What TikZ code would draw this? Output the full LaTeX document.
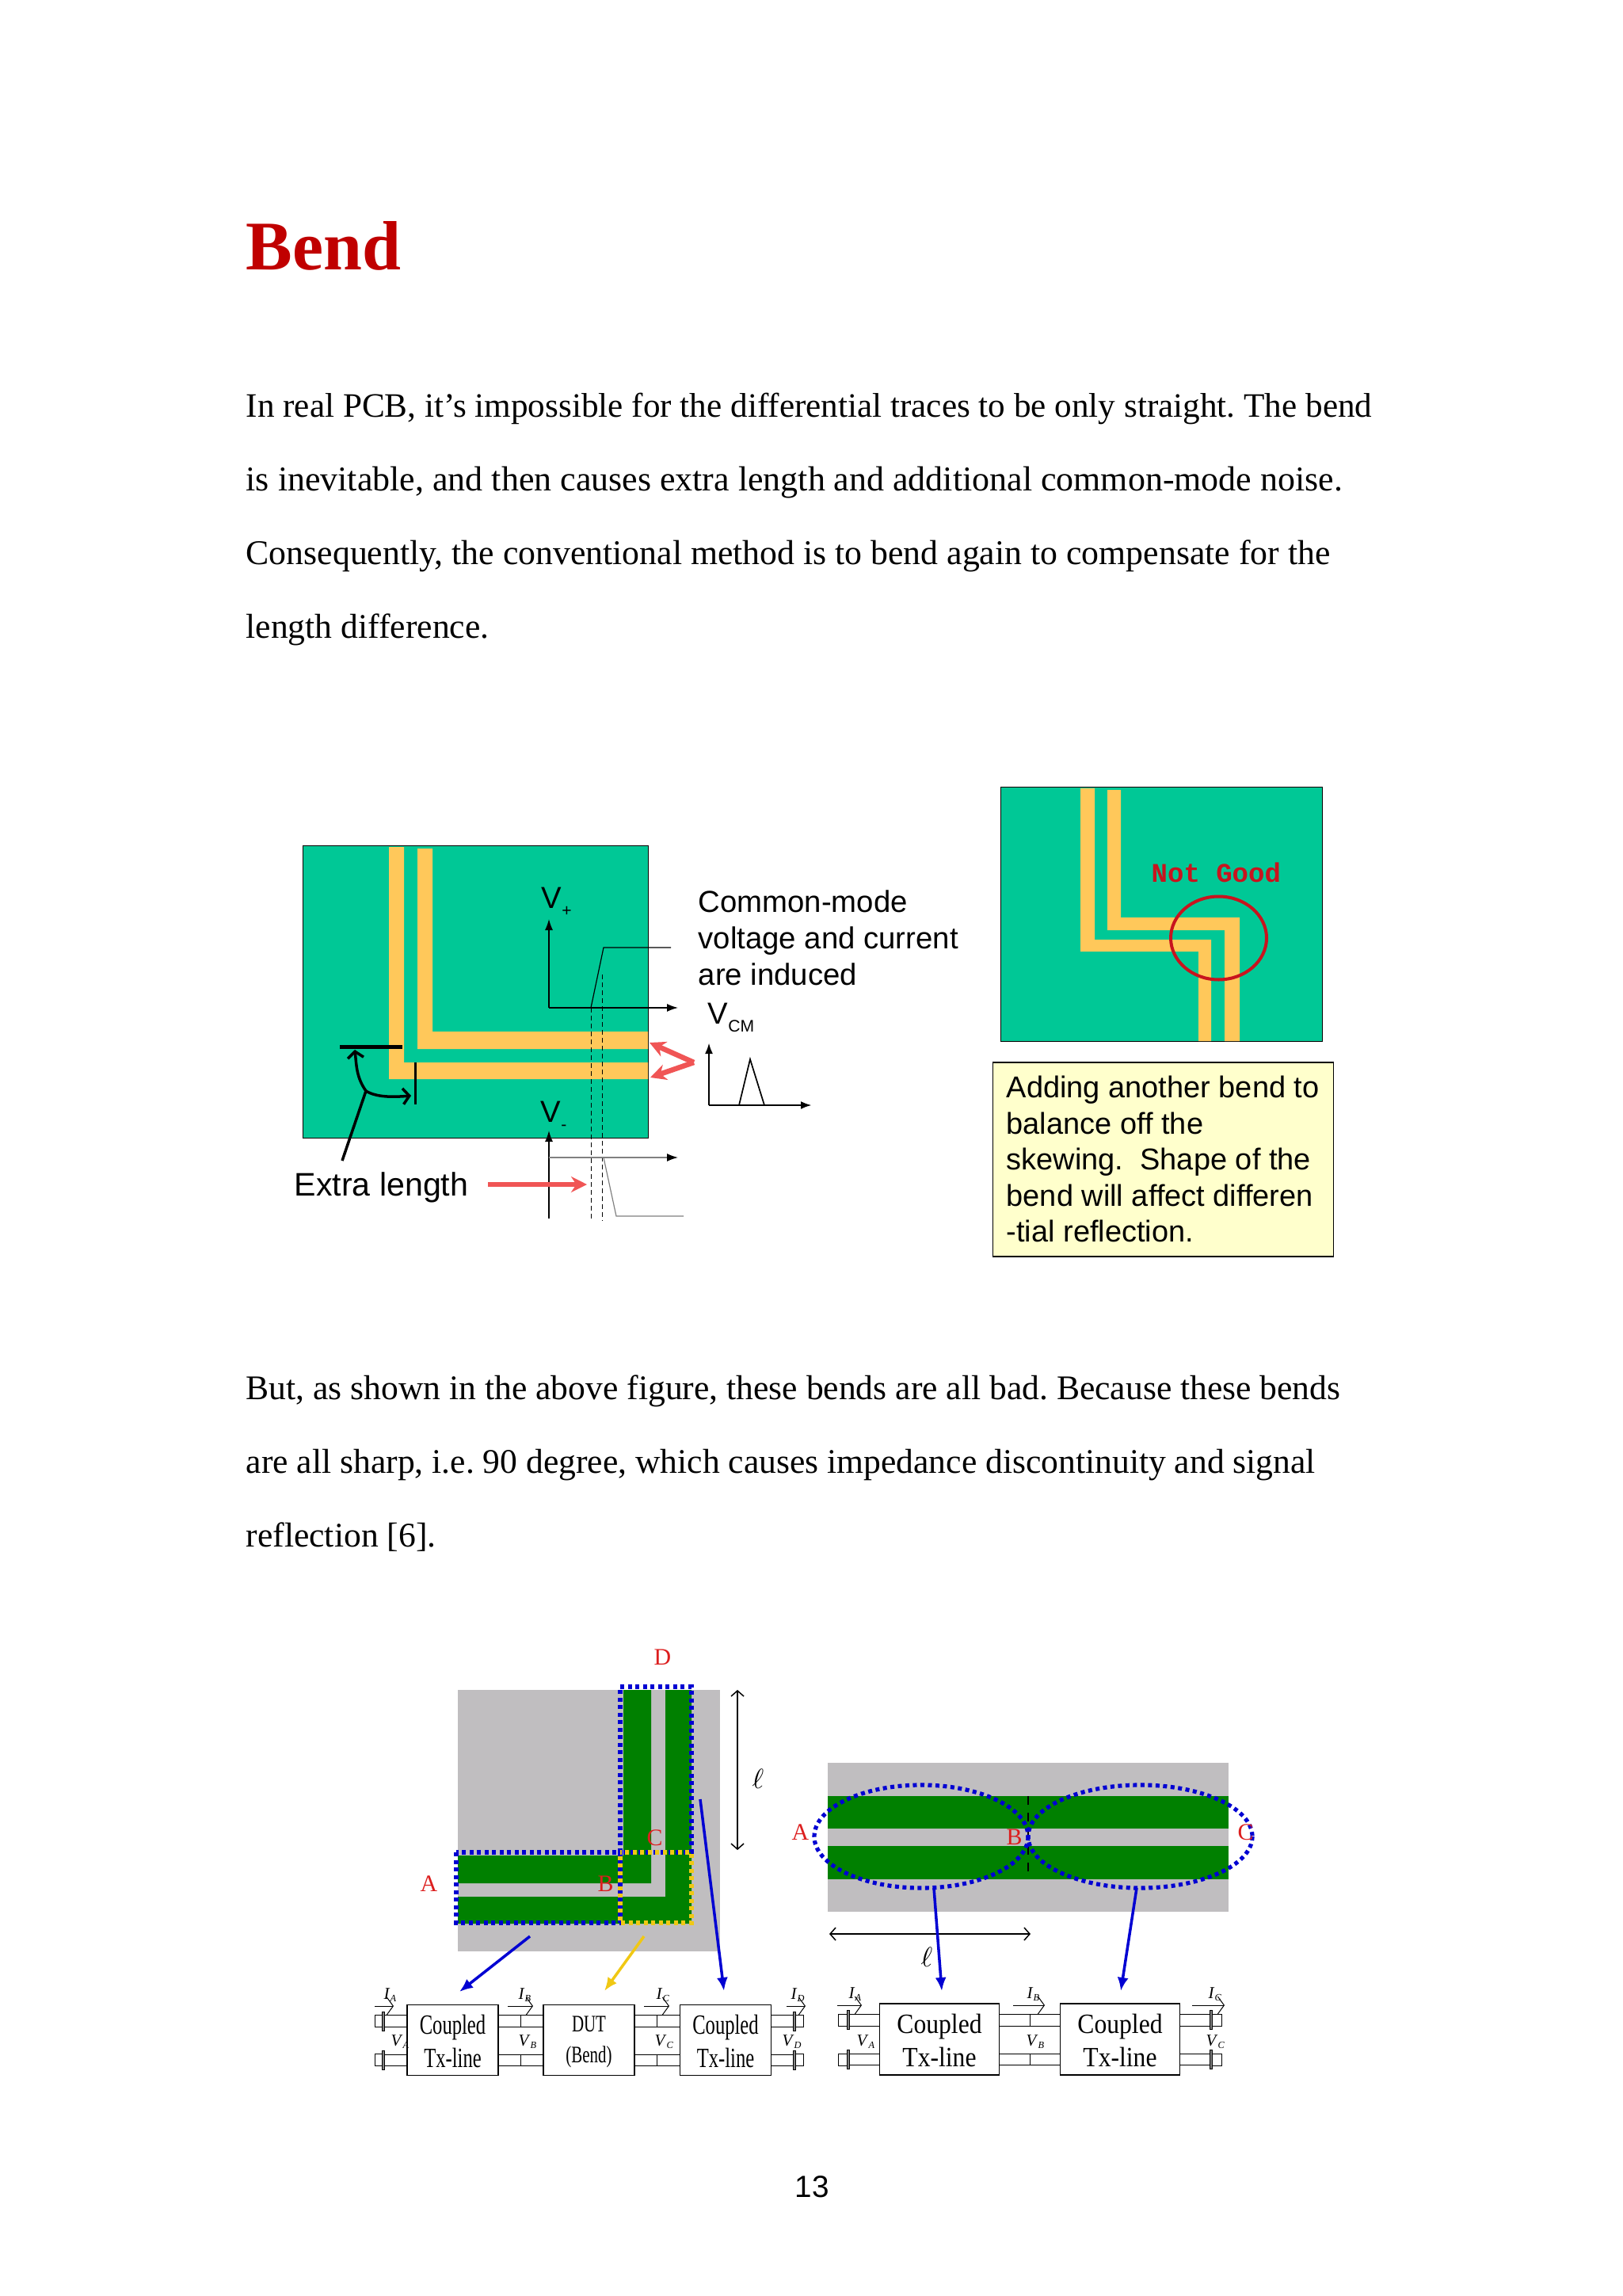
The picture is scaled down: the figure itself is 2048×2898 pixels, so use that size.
\documentclass[tikz,border=0pt]{standalone}
\usepackage{fontspec}
\usepackage{xcolor}
\setmainfont{Liberation Serif}
\setsansfont{Liberation Sans}
\newfontfamily\monofnt{Liberation Mono}
\newfontfamily\narrowfnt[FakeStretch=0.7]{Liberation Serif}
\newfontfamily\wideboxfnt[FakeStretch=0.9]{Liberation Serif}
\usetikzlibrary{arrows.meta,positioning}
\definecolor{boardgreen}{RGB}{0,200,150}
\definecolor{traceyellow}{RGB}{255,200,90}
\definecolor{metalgreen}{RGB}{0,128,0}
\definecolor{subgray}{RGB}{192,190,192}
\definecolor{dotblue}{RGB}{0,0,210}
\definecolor{labelred}{RGB}{220,30,30}
\definecolor{arrowred}{RGB}{240,85,85}
\definecolor{titlered}{RGB}{192,0,0}
\definecolor{notered}{RGB}{200,20,30}
\definecolor{notefill}{RGB}{255,255,204}
\definecolor{dutyellow}{RGB}{240,200,20}
\newcommand{\Vsub}[1]{V\raisebox{-0.5ex}{\fontsize{6}{6}\selectfont #1}}
\newcommand{\Lsub}[2]{\textit{#1}\raisebox{-0.35ex}{\fontsize{3.5}{4}\selectfont\itshape #2}}
\newcommand{\portlines}[2]{%
  \draw[wire] ([yshift=.32cm]#1) -- ([yshift=.32cm]#2);
  \draw[wire] ([yshift=.17cm]#1) -- ([yshift=.17cm]#2);
  \draw[wire] ([yshift=-.18cm]#1) -- ([yshift=-.18cm]#2);
  \draw[wire] ([yshift=-.32cm]#1) -- ([yshift=-.32cm]#2);
}
\begin{document}
\begin{tikzpicture}[x=0.01cm,y=-0.01cm,
  body/.style={anchor=base west, inner sep=0pt, font=\frenchspacing\fontsize{12.4}{14}\selectfont},
  lbl/.style={anchor=base west, inner sep=0pt, font=\sffamily\fontsize{10.9}{13}\selectfont},
  notelbl/.style={anchor=base west, inner sep=0pt, font=\sffamily\fontsize{10.8}{13}\selectfont},
  redlbl/.style={anchor=base west, inner sep=0pt, text=labelred, font=\fontsize{8.5}{9}\selectfont},
  smalllbl/.style={anchor=base west, inner sep=0pt, font=\fontsize{6}{7}\selectfont},
  ell/.style={inner sep=0pt, font=\fontsize{10}{11}\selectfont},
  tx/.style={draw, line width=.012cm, fill=white, minimum width=1.15cm, minimum height=.885cm, inner sep=0pt, align=center},
  txwide/.style={draw, line width=.012cm, fill=white, minimum width=1.515cm, minimum height=.9cm, inner sep=0pt, align=center},
  tip/.style={draw, line width=.008cm, minimum width=.12cm, minimum height=.15cm, inner sep=0pt},
  pin/.style={draw, line width=.006cm, fill=gray, minimum width=.035cm, minimum height=.24cm, inner sep=0pt},
  wire/.style={line width=.01cm},
  thinax/.style={-{Latex[length=.14cm,width=.1cm]}, line width=.014cm},
  pulse/.style={line width=.012cm},
  guide/.style={line width=.009cm, dash pattern=on .06cm off .04cm},
  hot/.style={-{Stealth[length=.2cm,width=.2cm]}, line width=.065cm, arrowred},
  curr/.style={-{Straight Barb[length=.08cm,width=.22cm]}, line width=.01cm},
  span/.style={{Straight Barb[length=.07cm,width=.16cm]}-{Straight Barb[length=.07cm,width=.16cm]}, line width=.015cm},
  feed/.style={-{Latex[length=.17cm,width=.14cm]}, line width=.035cm},
  dots/.style={line width=.052cm, dash pattern=on .05cm off .045cm}
]
\useasboundingbox (0,0) rectangle (2048,2898);
% page text
\node[anchor=base west, inner sep=0pt, text=titlered, font=\bfseries\fontsize{25}{28}\selectfont] (title) at (310,341) {Bend};
\node[body, font=\frenchspacing\fontsize{12.28}{14}\selectfont] (p1) at (310,527) {In real PCB, it’s impossible for the differential traces to be only straight. The bend};
\node[body, font=\frenchspacing\fontsize{12.5}{14}\selectfont] (p2) at (310,620) {is inevitable, and then causes extra length and additional common-mode noise.};
\node[body, font=\frenchspacing\fontsize{12.45}{14}\selectfont] (p3) at (310,713) {Consequently, the conventional method is to bend again to compensate for the};
\node[body] (p4) at (310,806) {length difference.};
\node[body] (p5) at (310,1766) {But, as shown in the above figure, these bends are all bad. Because these bends};
\node[body] (p6) at (310,1859) {are all sharp, i.e. 90 degree, which causes impedance discontinuity and signal};
\node[body] (p7) at (310,1952) {reflection [6].};
\node[inner sep=0pt, font=\sffamily\fontsize{11}{13}\selectfont] (pageno) at (1025,2760) {13};
% left board
\draw[fill=boardgreen, line width=.01cm] (382,1067) rectangle (818,1436);
\fill[traceyellow] (491,1069) -- (510,1069) -- (510,1341) -- (818,1341) -- (818,1362) -- (491,1362) -- cycle;
\fill[traceyellow] (527,1071) -- (546,1071) -- (546,1302) -- (818,1302) -- (818,1324) -- (527,1324) -- cycle;
\coordinate (vporg) at (693,1272);
\coordinate (vptop) at (693,1160);
\coordinate (vpend) at (856,1272);
\draw[thinax] (vporg) -- (vptop);
\draw[thinax] (vporg) -- (vpend);
\draw[pulse] (746,1272) -- (762,1196) -- (847,1196);
\draw[guide] (746,1272) -- (746,1541);
\draw[guide] (760,1230) -- (760,1541);
\node[lbl] (vplus) at (683,1146) {\Vsub{+}};
\node[lbl] (vminus) at (682,1416) {\Vsub{-}};
\node[lbl] (cm1) at (881,1151) {Common-mode};
\node[lbl] (cm2) at (881,1197) {voltage and current};
\node[lbl] (cm3) at (881,1243) {are induced};
\node[lbl] (vcm) at (893,1292) {\Vsub{CM}};
\coordinate (hotfrom) at (876,1341);
\coordinate (hotup) at (820,1316);
\coordinate (hotdown) at (821,1360);
\draw[hot] (hotfrom) -- (hotup);
\draw[hot] (hotfrom) -- (hotdown);
\coordinate (cmorg) at (895,1395);
\coordinate (cmtop) at (895,1316);
\coordinate (cmend) at (1025,1395);
\draw[thinax, line width=.028cm] (cmorg) -- (cmtop);
\draw[thinax, line width=.028cm] (cmorg) -- (cmend);
\draw[line width=.017cm] (933,1395) -- (947,1337) -- (965,1395);
% extra length marks
\draw[line width=.05cm] (429,1321) -- (508,1321);
\draw[line width=.03cm] (524,1341) -- (524,1394);
\coordinate (xfork) at (462,1377);
\coordinate (xfoot) at (432,1465);
\draw[line width=.035cm, -{Straight Barb[length=.08cm,width=.2cm]}] (xfork) .. controls (450,1360) and (450,1345) .. (448,1325);
\draw[line width=.035cm, -{Straight Barb[length=.08cm,width=.2cm]}] (xfork) .. controls (475,1385) and (495,1385) .. (519,1383);
\draw[line width=.035cm] (xfork) -- (xfoot);
\coordinate (vmorg) at (693,1538);
\coordinate (vmtop) at (693,1427);
\coordinate (vmfrom) at (693,1461);
\coordinate (vmend) at (856,1461);
\draw[thinax] (vmorg) -- (vmtop);
\draw[thinax, draw=gray, -{Latex[length=.14cm,width=.1cm,black]}] (vmfrom) -- (vmend);
\draw[pulse, gray] (762,1461) -- (778,1535) -- (863,1535);
\node[lbl, font=\sffamily\fontsize{11.7}{13}\selectfont] (extra) at (371,1509) {Extra length};
\coordinate (xlfrom) at (616,1495);
\coordinate (xlto) at (741,1495);
\draw[hot] (xlfrom) -- (xlto);
% right board
\draw[fill=boardgreen, line width=.01cm] (1263,993) rectangle (1669,1314);
\fill[traceyellow] (1364,995) -- (1382,995) -- (1382,1186) -- (1529,1186) -- (1529,1314) -- (1513,1314) -- (1513,1201) -- (1364,1201) -- cycle;
\fill[traceyellow] (1398,997) -- (1415,997) -- (1415,1158) -- (1565,1158) -- (1565,1314) -- (1546,1314) -- (1546,1174) -- (1398,1174) -- cycle;
\draw[notered, line width=.04cm] (1538.5,1184) ellipse [x radius=60.5, y radius=52.5];
\node[anchor=base west, inner sep=0pt, text=notered, font=\monofnt\bfseries\fontsize{9.67}{11}\selectfont] (notgood) at (1453,1113) {Not Good};
\node[draw, fill=notefill, line width=.012cm, minimum width=4.29cm, minimum height=2.45cm, inner sep=0pt] (note) at (1468.5,1463.5) {};
\node[notelbl] (n1) at (1270,1385) {Adding another bend to};
\node[notelbl] (n2) at (1270,1431) {balance off the};
\node[notelbl] (n3) at (1270,1476) {skewing.\ \ Shape of the};
\node[notelbl] (n4) at (1270,1522) {bend will affect differen};
\node[notelbl] (n5) at (1270,1567) {-tial reflection.};
% bend layout
\fill[subgray] (578,2133) rectangle (909,2463);
\fill[metalgreen] (787,2133) -- (822,2133) -- (822,2377) -- (578,2377) -- (578,2342) -- (787,2342) -- cycle;
\fill[metalgreen] (840,2133) -- (873,2133) -- (873,2428) -- (578,2428) -- (578,2394) -- (840,2394) -- cycle;
\draw[dots, dotblue] (783,2338) rectangle (873,2129);
\draw[dots, dotblue] (576,2338) rectangle (783,2427);
\draw[dots, dutyellow, dash phase=.05cm] (783,2338) rectangle (873,2427);
\node[redlbl] (bd) at (825,2101) {D};
\node[redlbl] (ba) at (530,2387) {A};
\node[redlbl] (bb) at (754,2387) {B};
\node[redlbl] (bc) at (816,2329) {C};
\coordinate (spantop) at (931,2133);
\coordinate (spanbot) at (931,2335);
\draw[span] (spantop) -- (spanbot);
\node[ell] (bl) at (957,2245) {$\ell$};
% straight layout
\fill[subgray] (1045,2225) rectangle (1551,2413);
\fill[metalgreen] (1045,2267) rectangle (1551,2308);
\fill[metalgreen] (1045,2330) rectangle (1551,2372);
\draw[dashed, line width=.012cm] (1298,2267) -- (1298,2372);
\draw[dots, dotblue] (1163,2318) ellipse [x radius=135, y radius=65];
\draw[dots, dotblue] (1439.5,2318) ellipse [x radius=141.5, y radius=65];
\node[redlbl] (sa) at (999,2322) {A};
\node[redlbl] (sb) at (1270,2328) {B};
\node[redlbl] (sc) at (1562,2322) {C};
\coordinate (spanl) at (1047,2441);
\coordinate (spanr) at (1301,2441);
\draw[span] (spanl) -- (spanr);
\node[ell] (sl) at (1170,2470) {$\ell$};
% circuit blocks, bend
\node[tx, font=\narrowfnt\fontsize{10}{12}\selectfont] (ctl) at (571.5,2575) {\rule{0pt}{.28cm}Coupled\\Tx-line};
\node[tx, font=\narrowfnt\fontsize{8.5}{11}\selectfont] (dut) at (743.5,2575) {\rule{0pt}{.24cm}DUT\\(Bend)};
\node[tx, font=\narrowfnt\fontsize{10}{12}\selectfont] (ctr) at (916,2575) {\rule{0pt}{.28cm}Coupled\\Tx-line};
\coordinate (ta) at (485,2575);
\coordinate (td) at (1003,2575);
\portlines{ctl.east}{dut.west}
\portlines{dut.east}{ctr.west}
\portlines{ctl.west}{ta}
\portlines{ctr.east}{td}
\node[tip] (pa1) at (479,2550.5) {};
\node[tip] (pa2) at (479,2600) {};
\node[pin] (ba1) at (484,2551) {};
\node[pin] (ba2) at (484,2600) {};
\node[tip] (pd1) at (1008,2550.5) {};
\node[tip] (pd2) at (1008,2600) {};
\node[pin] (bd1) at (1003,2551) {};
\node[pin] (bd2) at (1003,2600) {};
\draw[wire] (657,2543) -- (657,2558);
\draw[wire] (657,2593) -- (657,2607);
\draw[wire] (829,2543) -- (829,2558);
\draw[wire] (829,2593) -- (829,2607);
\coordinate (cia) at (473,2532);
\coordinate (cib) at (641,2532);
\coordinate (cic) at (813,2532);
\coordinate (cid) at (993,2532);
\draw[curr] (cia) -- ++(24,0);
\draw[curr] (cib) -- ++(32,0);
\draw[curr] (cic) -- ++(32,0);
\draw[curr] (cid) -- ++(24,0);
\node[smalllbl] (lia) at (484,2523) {\Lsub{I}{A}};
\node[smalllbl] (lib) at (654,2523) {\Lsub{I}{B}};
\node[smalllbl] (lic) at (828,2523) {\Lsub{I}{C}};
\node[smalllbl] (lid) at (998,2523) {\Lsub{I}{D}};
\node[smalllbl] (lva) at (493,2582) {\Lsub{V}{A}};
\node[smalllbl] (lvb) at (654,2582) {\Lsub{V}{B}};
\node[smalllbl] (lvc) at (826,2582) {\Lsub{V}{C}};
\node[smalllbl] (lvd) at (987,2582) {\Lsub{V}{D}};
% circuit blocks, straight
\node[txwide, font=\wideboxfnt\fontsize{10}{12}\selectfont] (cfl) at (1186,2574) {\rule{0pt}{.28cm}Coupled\\Tx-line};
\node[txwide, font=\wideboxfnt\fontsize{10}{12}\selectfont] (cfr) at (1414,2574) {\rule{0pt}{.28cm}Coupled\\Tx-line};
\coordinate (tl) at (1071,2574);
\coordinate (tr) at (1529,2574);
\portlines{cfl.east}{cfr.west}
\portlines{cfl.west}{tl}
\portlines{cfr.east}{tr}
\node[tip] (qa1) at (1064,2549.5) {};
\node[tip] (qa2) at (1064,2599.5) {};
\node[pin] (qb1) at (1071,2549) {};
\node[pin] (qb2) at (1071,2599) {};
\node[tip] (qc1) at (1536,2549.5) {};
\node[tip] (qc2) at (1536,2599.5) {};
\node[pin] (qd1) at (1529,2549) {};
\node[pin] (qd2) at (1529,2599) {};
\draw[wire] (1300,2542) -- (1300,2557);
\draw[wire] (1300,2592) -- (1300,2607);
\coordinate (dia) at (1057,2531);
\coordinate (dib) at (1279,2531);
\coordinate (dic) at (1505,2531);
\draw[curr] (dia) -- ++(31,0);
\draw[curr] (dib) -- ++(40,0);
\draw[curr] (dic) -- ++(41,0);
\node[smalllbl] (mia) at (1071,2522) {\Lsub{I}{A}};
\node[smalllbl] (mib) at (1296,2522) {\Lsub{I}{B}};
\node[smalllbl] (mic) at (1525,2522) {\Lsub{I}{C}};
\node[smalllbl] (mva) at (1081,2582) {\Lsub{V}{A}};
\node[smalllbl] (mvb) at (1295,2582) {\Lsub{V}{B}};
\node[smalllbl] (mvc) at (1522,2582) {\Lsub{V}{C}};
% feeds from layout to block
\coordinate (fa) at (669,2444);
\coordinate (fb) at (813,2444);
\coordinate (fc) at (884,2271);
\coordinate (fd) at (1179,2383);
\coordinate (fe) at (1435,2383);
\draw[feed, dotblue] (fa) -- (580,2514);
\draw[feed, dutyellow] (fb) -- (763,2513);
\draw[feed, dotblue] (fc) -- (914,2513);
\draw[feed, dotblue] (fd) -- (1189,2513);
\draw[feed, dotblue] (fe) -- (1415,2513);
\end{tikzpicture}
\end{document}
